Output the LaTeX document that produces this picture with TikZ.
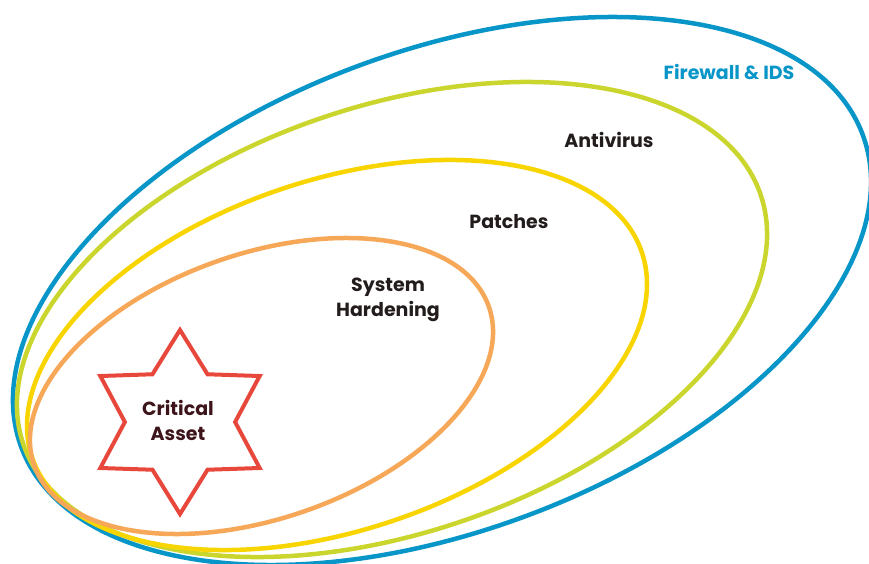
\documentclass[tikz,border=0pt]{standalone}
\usepackage{fontspec}
\setmainfont{Poppins}
\usetikzlibrary{shapes.geometric}
\definecolor{fwblue}{RGB}{8,150,200}
\definecolor{avgreen}{RGB}{202,214,46}
\definecolor{ptyellow}{RGB}{248,212,0}
\definecolor{shorange}{RGB}{246,168,88}
\definecolor{astred}{RGB}{232,72,60}
\definecolor{lbltext}{RGB}{35,28,28}
\definecolor{asttext}{RGB}{60,20,26}
\begin{document}
\begin{tikzpicture}[x=1pt,y=1pt,
  ring/.style={ellipse, draw, line width=4.5pt, inner sep=0pt},
  lbl/.style={font=\bfseries\fontsize{19}{25}\selectfont, text=lbltext, align=center, inner sep=0pt}]
\useasboundingbox (0,0) rectangle (869,563);
\node[ring, fwblue, minimum width=897.6, minimum height=480.4, rotate=20.35] (firewall) at (442,272){};
\node[ring, avgreen, minimum width=778.4, minimum height=427, rotate=18.65] (antivirus) at (392,243.5){};
\node[ring, ptyellow, minimum width=643.4, minimum height=350, rotate=18.6] (patches) at (337,208){};
\node[ring, shorange, minimum width=481.6, minimum height=264.8, rotate=19.2] (hardening) at (261.5,177){};
\node[star, star points=6, star point ratio=1.67, minimum size=184, draw=astred, line width=4pt, inner sep=0pt] (asset) at (180,141){};
\node[lbl, text=fwblue] (tfirewall) at (729,491){Firewall \& IDS};
\node[lbl] (tantivirus) at (609,423){Antivirus};
\node[lbl] (tpatches) at (509,341){Patches};
\node[lbl] (thardening) at (388,263){System\\Hardening};
\node[lbl, text=asttext] (tasset) at (178,143){Critical\\Asset};
\end{tikzpicture}
\end{document}
